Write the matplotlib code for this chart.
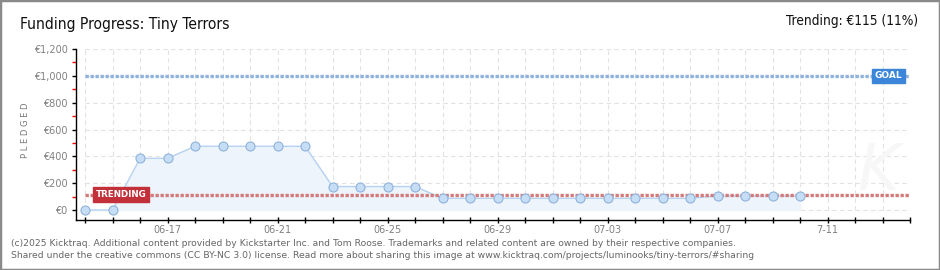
import pandas as pd
import numpy as np
import matplotlib.pyplot as plt
from matplotlib.patches import Rectangle
from matplotlib.ticker import FixedLocator

# chart data
dates = pd.date_range('2025-06-14', '2025-07-10', freq='D')
pledged = [0, 0, 385, 385, 475, 475, 475, 475, 475,
           175, 175, 175, 175,
           87, 87, 87, 87, 87, 87, 87, 87, 87, 87,
           105, 105, 105, 105]
goal = 1000
trending = 115
axis_start = pd.Timestamp('2025-06-14')
axis_end = pd.Timestamp('2025-07-14')
tick_labels = ['06-17', '06-21', '06-25', '06-29', '07-03', '07-07', '7-11']
tick_dates = pd.to_datetime(['2025-06-17', '2025-06-21', '2025-06-25', '2025-06-29',
                             '2025-07-03', '2025-07-07', '2025-07-11'])

x = (dates - axis_start).days.values
x_end = (axis_end - axis_start).days

fig = plt.figure(figsize=(9.4, 2.7), dpi=100)
ax = fig.add_axes([76 / 940, 50 / 270, (910 - 76) / 940, 171 / 270])

# grid drawn only over the data area
for d in range(0, x_end + 1):
    ax.plot([d, d], [0, 1200], color='#e2e2e2', lw=0.8, ls=(0, (4, 3)), zorder=0)
for v in range(0, 1201, 200):
    ax.plot([0, x_end], [v, v], color='#e2e2e2', lw=0.8, ls=(0, (4, 3)), zorder=0)

ax.fill_between(x, pledged, 0, color='#edf4fc', zorder=1)
ax.plot(x, pledged, color='#b5d2f0', lw=1, zorder=2)
ax.plot(x, pledged, 'o', ms=6.5, mfc='#c6ddf6', mec='#8fb2da', mew=0.8, zorder=4)

# goal and trending lines
ax.plot([0, x_end], [goal, goal], color='#8fb3dd', lw=2.4, ls=(0, (1, 0.5)), zorder=3)
ax.plot([0, x_end], [trending, trending], color='#d47a7a', lw=2.4, ls=(0, (1, 0.5)), zorder=3)

ax.text(x_end - 1.3, goal, 'GOAL', color='white', fontsize=6.5, fontweight='bold',
        ha='left', va='center', zorder=6,
        bbox=dict(boxstyle='square,pad=0.3', fc='#3b86d8', ec='#3b86d8'))
ax.text(0.4, trending, 'TRENDING', color='white', fontsize=6.3, fontweight='bold',
        ha='left', va='center', zorder=6,
        bbox=dict(boxstyle='square,pad=0.3', fc='#c2303a', ec='#c2303a'))

ax.set_xlim(-0.33, x_end)
ax.set_ylim(-74.5, 1200)

for s in ['top', 'right']:
    ax.spines[s].set_visible(False)
ax.spines['left'].set_linewidth(1)
ax.spines['bottom'].set_linewidth(1)

# labelled dates as major ticks, every day as minor ticks
ax.xaxis.set_major_locator(FixedLocator((tick_dates - axis_start).days.values))
ax.xaxis.set_major_formatter(plt.FixedFormatter(tick_labels))
ax.xaxis.set_minor_locator(FixedLocator(list(range(0, x_end + 1))))
ax.tick_params(axis='x', which='both', direction='inout', length=5, width=1)
ax.tick_params(axis='x', which='major', pad=1, labelsize=7, labelcolor='#808080')

ax.set_yticks(range(0, 1201, 200))
ax.set_yticklabels(['€{:,}'.format(v) for v in range(0, 1201, 200)])
ax.yaxis.set_minor_locator(FixedLocator([100, 300, 500, 700, 900, 1100]))
ax.tick_params(axis='y', which='major', direction='out', length=3, width=1,
               labelsize=7, labelcolor='#808080', pad=3)
ax.tick_params(axis='y', which='minor', direction='out', length=3, width=1, color='red')

fig.text(25 / 940, 1 - 130 / 270, 'P L E D G E D', rotation=90, fontsize=6,
         color='#777777', ha='center', va='center')

fig.text(20 / 940, 1 - 25 / 270, 'Funding Progress: Tiny Terrors', fontsize=11.2,
         fontstretch='condensed', ha='left', va='center', color='#111111')
fig.text(918 / 940, 1 - 21 / 270, 'Trending: €115 (11%)', fontsize=9.8,
         fontstretch='condensed', ha='right', va='center', color='#111111')

# faint watermark
fig.text(878 / 940, 1 - 172 / 270, 'K', fontsize=46, style='italic', color='#f7f7f7',
         ha='center', va='center', zorder=0)

fig.text(11 / 940, 1 - 244 / 270,
         '(c)2025 Kicktraq. Additional content provided by Kickstarter Inc. and Tom Roose. '
         'Trademarks and related content are owned by their respective companies.',
         fontsize=6.7, color='#666666', ha='left', va='center')
fig.text(11 / 940, 1 - 256 / 270,
         'Shared under the creative commons (CC BY-NC 3.0) license. Read more about sharing '
         'this image at www.kicktraq.com/projects/luminooks/tiny-terrors/#sharing',
         fontsize=6.7, color='#666666', ha='left', va='center')

fig.patches.append(Rectangle((0, 0), 1, 1, transform=fig.transFigure, fill=False,
                             ec='#8a8a8a', lw=2.5))

fig.savefig('out.png', dpi=100)
